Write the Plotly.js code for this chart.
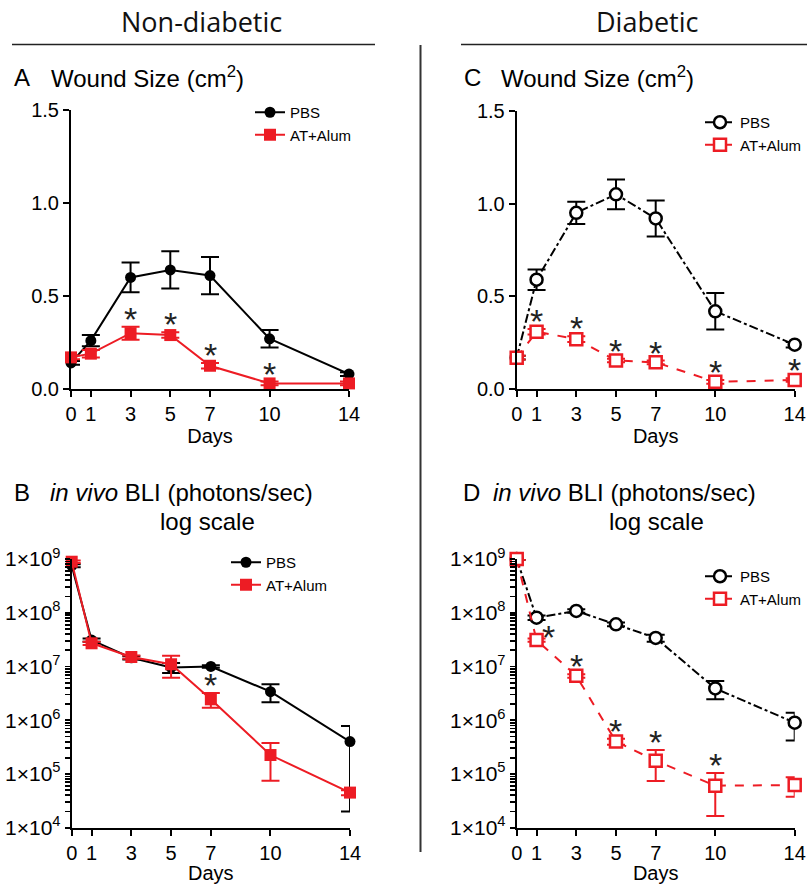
<!DOCTYPE html>
<html><head><meta charset="utf-8">
<script src="https://cdn.plot.ly/plotly-3.0.1.min.js"></script>
<style>html,body{margin:0;padding:0;background:#fff}#chart{width:807px;height:884px}</style>
</head><body><div id="chart"></div>
<script>
// ---------- data ----------
const days = [0, 1, 3, 5, 7, 10, 14];
const dayTickLabels = ['0', '1', '3', '5', '7', '10', '14'];
const seriesNames = ['PBS', 'AT+Alum'];

// A: Non-diabetic wound size (cm2)
const woundNdPBS = [0.14, 0.26, 0.60, 0.64, 0.61, 0.27, 0.08];
const woundNdPBSsem = [0.01, 0.03, 0.08, 0.10, 0.10, 0.047, 0.01];
const woundNdAT = [0.17, 0.19, 0.30, 0.29, 0.125, 0.03, 0.03];
const woundNdATsem = [0.01, 0.02, 0.035, 0.015, 0.015, 0.01, 0.01];
const woundNdSig = [3, 5, 7, 10];

// C: Diabetic wound size (cm2)
const woundDbPBS = [0.17, 0.59, 0.95, 1.05, 0.92, 0.42, 0.24];
const woundDbPBSsem = [0.01, 0.055, 0.06, 0.08, 0.097, 0.098, 0.015];
const woundDbAT = [0.17, 0.31, 0.27, 0.155, 0.145, 0.04, 0.05];
const woundDbATsem = [0.01, 0.015, 0.015, 0.01, 0.01, 0.01, 0.01];
const woundDbSig = [1, 3, 5, 7, 10, 14];

// B: Non-diabetic in vivo BLI (photons/sec)
const bliNdPBS = [7.5e8, 3.1e7, 1.45e7, 9.6e6, 1.0e7, 3.4e6, 4.0e5];
const bliNdPBSsem = [5e7, 2e6, 1e6, 2e6, 5e5, 1.25e6, 3.8e5];
const bliNdAT = [8.9e8, 2.7e7, 1.5e7, 1.1e7, 2.45e6, 2.25e5, 4.5e4];
const bliNdATsem = [5e7, 2e6, 1e6, 4.8e6, 7.5e5, 1.5e5, 5e3];
const bliNdSig = [7];

// D: Diabetic in vivo BLI (photons/sec)
const bliDbPBS = [1.0e9, 8.1e7, 1.08e8, 6.1e7, 3.4e7, 3.9e6, 9.0e5];
const bliDbPBSsem = [3e7, 8e6, 8e6, 5e6, 5e6, 1.45e6, 4.8e5];
const bliDbAT = [1.0e9, 3.1e7, 6.7e6, 4.0e5, 1.77e5, 6.05e4, 6.2e4];
const bliDbATsem = [3e7, 2e6, 5e5, 5e4, 1.03e5, 4.4e4, 2.45e4];
const bliDbSig = [1, 3, 5, 7, 10];

const linTickVals = [0, 0.5, 1.0, 1.5];
const logTickVals = [1e4, 1e5, 1e6, 1e7, 1e8, 1e9];
const logTickText = logTickVals.map(v => '1×10<sup>' + Math.round(Math.log10(v)) + '</sup>');
// minor log ticks: 2..9 × each decade (unlabelled)
const logMinorVals = [];
logTickVals.slice(0, -1).forEach(v => { for (let m = 2; m <= 9; m++) logMinorVals.push(v * m); });
const logAllTickVals = logTickVals.concat(logMinorVals);
const logAllTickText = logTickText.concat(logMinorVals.map(() => ''));

// ---------- styling / layout ----------
const W = 807, H = 884;
const px = x => x / W;
const py = y => 1 - y / H;
const FONT = 'Liberation Sans, Arial, sans-serif';
const HEAD_FONT = 'Open Sans, Noto Sans, sans-serif';
const BLACK = '#000000';
const RED = '#ed1c24';

const panels = [
  { id: '', pbs: woundNdPBS, pbsSem: woundNdPBSsem, at: woundNdAT, atSem: woundNdATsem, sig: woundNdSig,
    log: false, open: false, xd: [71, 349], yd: [110, 389], legend: 'legend' },
  { id: '2', pbs: woundDbPBS, pbsSem: woundDbPBSsem, at: woundDbAT, atSem: woundDbATsem, sig: woundDbSig,
    log: false, open: true, xd: [516.7, 794.7], yd: [110.7, 389.3], legend: 'legend2' },
  { id: '3', pbs: bliNdPBS, pbsSem: bliNdPBSsem, at: bliNdAT, atSem: bliNdATsem, sig: bliNdSig,
    log: true, open: false, xd: [71.7, 350], yd: [559, 827.7], legend: 'legend3' },
  { id: '4', pbs: bliDbPBS, pbsSem: bliDbPBSsem, at: bliDbAT, atSem: bliDbATsem, sig: bliDbSig,
    log: true, open: true, xd: [516.7, 794.7], yd: [559, 827.7], legend: 'legend4', firstSigOffset: true }
];

const traces = [];
const layout = {
  width: W, height: H,
  margin: { l: 0, r: 0, t: 0, b: 0 },
  paper_bgcolor: '#ffffff', plot_bgcolor: '#ffffff',
  font: { family: FONT, color: BLACK },
  showlegend: true,
  annotations: [],
  shapes: []
};

// [x, y, xanchor]
const legendPos = {
  legend: [250, 96, 'left'], legend2: [806, 106, 'right'], legend3: [226, 546, 'left'], legend4: [806, 560, 'right']
};

panels.forEach(p => {
  const xa = 'x' + p.id, ya = 'y' + p.id;
  const dash = p.open ? 'dashdot' : 'solid';
  const dashRed = p.open ? 'dash' : 'solid';

  traces.push({
    type: 'scatter', mode: 'lines+markers', name: seriesNames[0],
    x: days, y: p.pbs, xaxis: xa, yaxis: ya, legend: p.legend, cliponaxis: false,
    error_y: { type: 'data', array: p.pbsSem, visible: true, color: BLACK, thickness: 2, width: 9 },
    line: { color: BLACK, width: 2, dash: dash },
    marker: p.open
      ? { symbol: 'circle', size: 12, color: '#ffffff', line: { color: BLACK, width: 2.5 } }
      : { symbol: 'circle', size: 11, color: BLACK, line: { width: 0 } }
  });
  traces.push({
    type: 'scatter', mode: 'lines+markers', name: seriesNames[1],
    x: days, y: p.at, xaxis: xa, yaxis: ya, legend: p.legend, cliponaxis: false,
    error_y: { type: 'data', array: p.atSem, visible: true, color: RED, thickness: 2, width: 9 },
    line: { color: RED, width: 2, dash: dashRed },
    marker: p.open
      ? { symbol: 'square', size: 12, color: '#ffffff', line: { color: RED, width: 2.5 } }
      : { symbol: 'square', size: 12, color: RED, line: { width: 0 } }
  });

  const axCommon = {
    showline: true, linecolor: BLACK, linewidth: 2, mirror: false,
    ticks: 'outside', ticklen: 6, tickwidth: 2, tickcolor: BLACK,
    showgrid: false, zeroline: false, fixedrange: true
  };
  layout['xaxis' + p.id] = Object.assign({}, axCommon, {
    domain: [px(p.xd[0]), px(p.xd[1])], anchor: ya,
    range: [0, 14], tickmode: 'array', tickvals: days, ticktext: dayTickLabels,
    tickfont: { size: 20, family: FONT },
    title: { text: 'Days', font: { size: 20, family: FONT }, standoff: 5 }
  });
  const yd = [py(p.yd[1]), py(p.yd[0])];
  if (p.log) {
    layout['yaxis' + p.id] = Object.assign({}, axCommon, {
      domain: yd, anchor: xa, type: 'log', range: [4, 9],
      tickmode: 'array', tickvals: logAllTickVals, ticktext: logAllTickText,
      ticklen: 5, tickwidth: 1.8,
      tickfont: { size: 21, family: FONT }
    });
  } else {
    layout['yaxis' + p.id] = Object.assign({}, axCommon, {
      domain: yd, anchor: xa, range: [0, 1.5],
      tickmode: 'array', tickvals: linTickVals, tickformat: '.1f',
      tickfont: { size: 20, family: FONT }
    });
  }

  const lp = legendPos[p.legend];
  layout[p.legend] = {
    x: px(lp[0]), y: py(lp[1]), xanchor: lp[2], yanchor: 'top',
    xref: 'paper', yref: 'paper',
    font: { size: 15, family: FONT, color: BLACK },
    bgcolor: 'rgba(0,0,0,0)', borderwidth: 0, tracegroupgap: 0, itemwidth: 30
  };

  // significance asterisks above the AT+Alum series
  p.sig.forEach((d, k) => {
    const i = days.indexOf(d);
    const top = p.at[i] + p.atSem[i];
    const special = p.firstSigOffset && k === 0;
    layout.annotations.push({
      xref: xa, yref: ya, x: d, y: p.log ? Math.log10(special ? p.at[i] : top) : top,
      text: '*', showarrow: false, font: { size: 34, family: FONT, color: '#222' },
      xanchor: 'center', yanchor: 'bottom',
      xshift: special ? 12 : 0, yshift: special ? -18 : -13
    });
  });
});

// panel titles & headers
function txt(text, x, y, size, opts) {
  return Object.assign({
    xref: 'paper', yref: 'paper', x: px(x), y: py(y), text: text, showarrow: false,
    xanchor: 'left', yanchor: 'middle', font: { size: size, family: FONT, color: BLACK }
  }, opts || {});
}
layout.annotations.push(
  txt('Non-diabetic', 201.7, 21, 27, { xanchor: 'center', font: { size: 27, family: HEAD_FONT, color: '#111' } }),
  txt('Diabetic', 647.5, 21, 27, { xanchor: 'center', font: { size: 27, family: HEAD_FONT, color: '#111' } }),
  txt('A', 12, 77, 24),
  txt('Wound Size (cm<sup>2</sup>)', 49, 77, 24),
  txt('C', 462, 77, 24),
  txt('Wound Size (cm<sup>2</sup>)', 499, 77, 24),
  txt('B', 12, 492, 24),
  txt('<i>in vivo</i> BLI (photons/sec)', 48, 492, 24),
  txt('log scale', 207.5, 521, 24, { xanchor: 'center' }),
  txt('D', 461, 492, 24),
  txt('<i>in vivo</i> BLI (photons/sec)', 491, 492, 24),
  txt('log scale', 656, 521, 24, { xanchor: 'center' })
);

layout.shapes.push(
  { type: 'line', xref: 'paper', yref: 'paper', x0: px(12), x1: px(375), y0: py(44.5), y1: py(44.5), line: { color: '#222', width: 1.5 } },
  { type: 'line', xref: 'paper', yref: 'paper', x0: px(461), x1: px(807), y0: py(44.5), y1: py(44.5), line: { color: '#222', width: 1.5 } },
  { type: 'line', xref: 'paper', yref: 'paper', x0: px(420.5), x1: px(420.5), y0: py(45), y1: py(852), line: { color: '#333', width: 2 } }
);

Plotly.newPlot('chart', traces, layout, { staticPlot: true, displayModeBar: false });
</script>
</body></html>
